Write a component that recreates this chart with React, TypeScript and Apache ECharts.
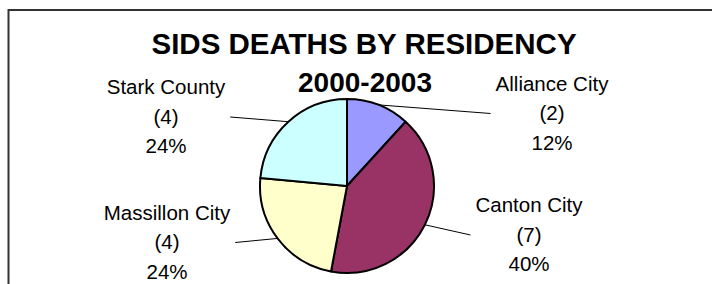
import React, { useEffect, useRef } from "react";
import * as echarts from "echarts";

const categories = ["Alliance City", "Canton City", "Massillon City", "Stark County"];
const deaths = [2, 7, 4, 4];
const percentLabels = ["12%", "40%", "24%", "24%"];
const sliceColors = ["#9999FF", "#993366", "#FFFFCC", "#CCFFFF"];

const titleText = "SIDS DEATHS BY RESIDENCY";
const subtitleText = "2000-2003";

const FONT = "'Liberation Sans', Arial, Helvetica, sans-serif";
const PIE_CENTER = [347, 186];
const PIE_RADIUS = 87;
// label block centres (layout)
const labelCenters: number[][] = [
  [552, 112.5],
  [529, 234],
  [167, 241.5],
  [166, 116],
];

export default function App() {
  const ref = useRef<HTMLDivElement>(null);
  useEffect(() => {
    if (!ref.current) return;
    const chart = echarts.init(ref.current, null, { renderer: "svg" });
    chart.setOption({
      animation: false,
      backgroundColor: "#ffffff",
      graphic: [
        {
          type: "rect",
          shape: { x: 8.5, y: 10, width: 760, height: 320 },
          style: { fill: "none", stroke: "#333333", lineWidth: 2 },
          silent: true,
        },
        {
          type: "text",
          x: 364,
          y: 43.5,
          style: {
            text: titleText,
            font: `bold 29.5px ${FONT}`,
            fill: "#000",
            textAlign: "center",
            textVerticalAlign: "middle",
          },
        },
        {
          type: "text",
          x: 365,
          y: 82,
          style: {
            text: subtitleText,
            font: `bold 28px ${FONT}`,
            fill: "#000",
            textAlign: "center",
            textVerticalAlign: "middle",
          },
        },
      ],
      series: [
        {
          type: "pie",
          center: PIE_CENTER,
          radius: PIE_RADIUS,
          startAngle: 90,
          clockwise: true,
          avoidLabelOverlap: false,
          itemStyle: { borderColor: "#000", borderWidth: 2 },
          emphasis: { disabled: true },
          label: {
            show: true,
            position: "outside",
            color: "#000",
            fontFamily: FONT,
            fontSize: 20.5,
            lineHeight: 29.5,
            align: "center",
            formatter: (p: any) => `${p.name}\n(${p.value})\n${percentLabels[p.dataIndex]}`,
          },
          labelLine: {
            show: true,
            length: 10,
            length2: 10,
            lineStyle: { color: "#000", width: 1 },
          },
          labelLayout: (params: any) => {
            const i = params.dataIndex;
            const [cx, cy] = labelCenters[i];
            const w = params.labelRect.width;
            const onRight = cx > PIE_CENTER[0];
            const endX = onRight ? cx - w / 2 - 5 : cx + w / 2 + 5;
            const start = params.labelLinePoints ? params.labelLinePoints[0] : null;
            const res: any = { x: cx, y: cy, align: "center", verticalAlign: "middle" };
            if (start) res.labelLinePoints = [start, [endX, cy + 1]];
            return res;
          },
          data: categories.map((name, i) => ({
            name,
            value: deaths[i],
            itemStyle: { color: sliceColors[i] },
          })),
        },
      ],
    });
    return () => chart.dispose();
  }, []);
  return (
    <div
      ref={ref}
      style={{ position: "absolute", left: 0, top: 0, width: 712, height: 284 }}
    />
  );
}
